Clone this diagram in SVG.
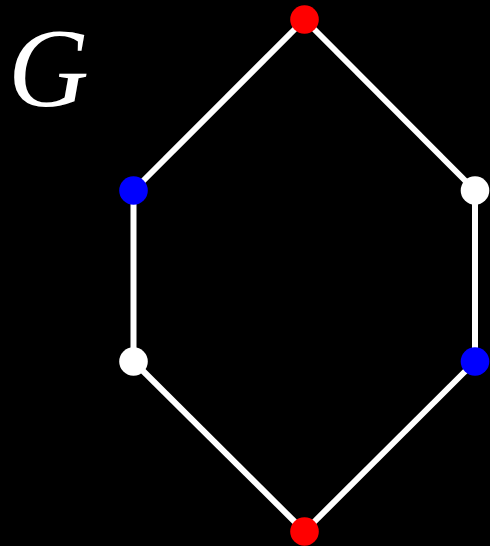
<svg xmlns="http://www.w3.org/2000/svg" width="490" height="546" viewBox="0 0 490 546">
<style>
.e{stroke:#fff;stroke-width:6;fill:none}
.n{stroke:none}
.lbl{font-family:"Liberation Serif",serif;font-style:italic;fill:#fff}
</style>
<rect width="490" height="546" fill="#000"/>
<text class="lbl" x="8" y="106" font-size="112">G</text>
<g id="edges">
<line class="e" x1="304.5" y1="19.5" x2="133.5" y2="190.5"/>
<line class="e" x1="304.5" y1="19.5" x2="475" y2="190.5"/>
<line class="e" x1="133.5" y1="190.5" x2="133.5" y2="361.5"/>
<line class="e" x1="475" y1="190.5" x2="475" y2="361.5"/>
<line class="e" x1="133.5" y1="361.5" x2="304.5" y2="531.5"/>
<line class="e" x1="475" y1="361.5" x2="304.5" y2="531.5"/>
</g>
<g id="n1"><circle class="n" cx="304.5" cy="19.5" r="14.3" fill="#ff0000"/></g>
<g id="n2"><circle class="n" cx="133.5" cy="190.5" r="14.3" fill="#0000ff"/></g>
<g id="n3"><circle class="n" cx="475" cy="190.5" r="14.3" fill="#ffffff"/></g>
<g id="n4"><circle class="n" cx="133.5" cy="361.5" r="14.3" fill="#ffffff"/></g>
<g id="n5"><circle class="n" cx="475" cy="361.5" r="14.3" fill="#0000ff"/></g>
<g id="n6"><circle class="n" cx="304.5" cy="531.5" r="14.3" fill="#ff0000"/></g>
</svg>
